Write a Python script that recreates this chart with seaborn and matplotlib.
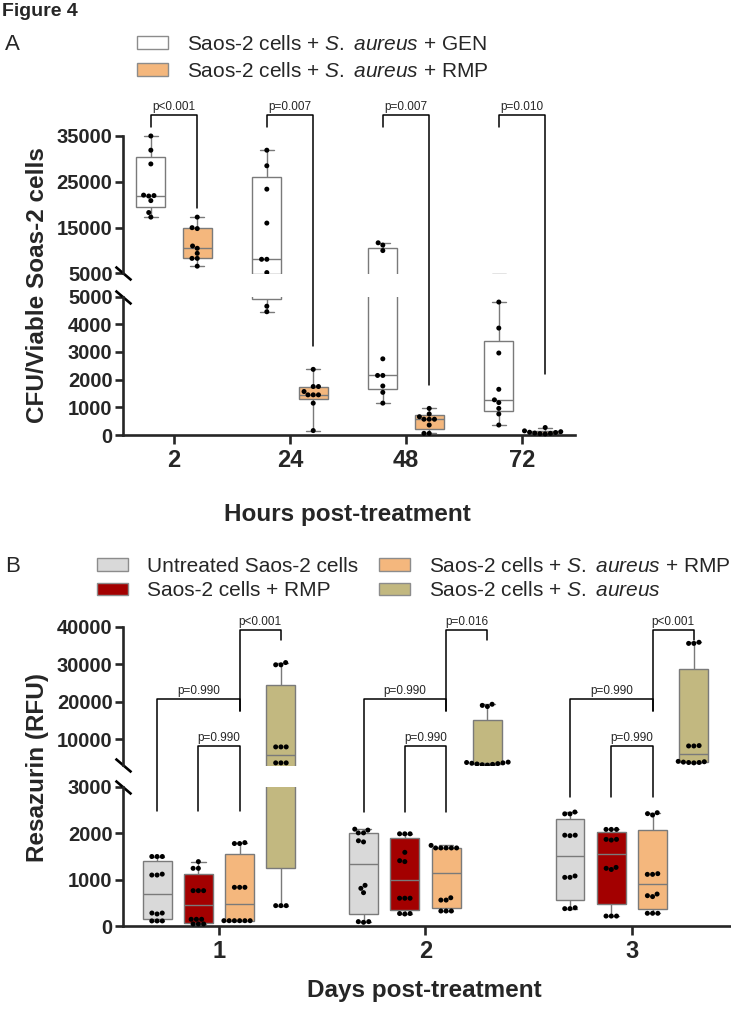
import warnings
warnings.filterwarnings("ignore")

import numpy as np
import pandas as pd
import matplotlib
matplotlib.use("Agg")
import matplotlib.pyplot as plt
import matplotlib.cbook as cbook
from matplotlib.lines import Line2D
from matplotlib.patches import Patch
import seaborn as sns

# ── Style ────────────────────────────────────────────────────
sns.set_style("ticks")
plt.rcParams.update({
    "font.family": ["Liberation Sans", "DejaVu Sans"],
    "mathtext.fontset": "custom",
    "mathtext.rm": "Liberation Sans",
    "mathtext.it": "Liberation Sans:italic",
    "axes.linewidth": 1.9,
    "figure.facecolor": "white",
})
EDGE = "#7a7a7a"
WHITE, ORANGE = "#ffffff", "#f4b77d"
GREY, RED, OLIVE = "#d9d9d9", "#a30000", "#c2b880"
YTICK_FS, XTICK_FS, LABEL_FS = 14.5, 17, 17.5

# GraphPad draws quartiles with the (n+1)p rule, not numpy's default
_mpl_stats = cbook.boxplot_stats
def graphpad_stats(X, *args, **kwargs):
    stats = _mpl_stats(X, *args, **kwargs)
    for s, x in zip(stats, X):
        s["q1"], s["med"], s["q3"] = np.percentile(np.asarray(x, float), [25, 50, 75], method="weibull")
    return stats
cbook.boxplot_stats = graphpad_stats

# ── Data: panel A, CFU per viable Saos-2 cell ───────────────
HOURS = ["2", "24", "48", "72"]
A_GROUPS = ["GEN", "RMP"]
gen_2h  = [35000, 31900, 28900, 22100, 21900, 22000, 20900, 18300, 17300]
gen_24h = [31900, 28500, 23400, 16000, 8100, 8100, 5200, 4650, 4450]
gen_48h = [11700, 11200, 10000, 2750, 2150, 2150, 1770, 1540, 1150]
gen_72h = [4800, 3860, 2960, 1650, 1270, 1170, 960, 760, 360]
rmp_2h  = [17300, 14800, 15000, 11000, 10500, 9400, 8300, 8300, 6600]
rmp_24h = [2370, 1750, 1750, 1570, 1450, 1450, 1450, 1150, 160]
rmp_48h = [960, 760, 660, 570, 570, 570, 360, 60, 60]
rmp_72h = [270, 150, 120, 100, 90, 70, 60, 50, 40]
A_PVALS = ["p<0.001", "p=0.007", "p=0.007", "p=0.010"]
A_BRACKET_TOP = 39600
A_LEFT_LEG = 37000
A_RIGHT_LEG = [19200, 3200, 1800, 2200]

# ── Data: panel B, resazurin (RFU) ──────────────────────────
DAYS = ["1", "2", "3"]
B_GROUPS = ["Untreated", "RMP", "SA+RMP", "SA"]
untreated_d1 = [1500, 1500, 1500, 1120, 1100, 1100, 280, 280, 260, 110, 110, 110]
untreated_d2 = [2090, 2070, 2010, 2010, 1840, 1815, 878, 813, 720, 95, 95, 80]
untreated_d3 = [2460, 2420, 2420, 1960, 1950, 1960, 1080, 1050, 1050, 395, 375, 375]
rmp_d1 = [1390, 1245, 1245, 763, 763, 763, 145, 145, 145, 45, 45, 45]
rmp_d2 = [1990, 1990, 1990, 1590, 1410, 1390, 600, 600, 600, 270, 260, 270]
rmp_d3 = [2085, 2085, 2085, 1870, 1855, 1870, 1265, 1245, 1220, 215, 215, 215]
sa_rmp_d1 = [1800, 1780, 1780, 835, 835, 835, 115, 115, 115, 115, 115, 115]
sa_rmp_d2 = [1740, 1685, 1685, 1685, 1685, 1685, 610, 560, 560, 324, 324, 324]
sa_rmp_d3 = [2445, 2425, 2395, 1130, 1115, 1115, 690, 655, 635, 275, 275, 275]
sa_d1 = [30400, 29800, 29800, 7950, 7950, 7950, 3700, 3700, 3700, 440, 440, 440]
sa_d2 = [19300, 19000, 18700, 3900, 3800, 3700, 3600, 3500, 3400, 3300, 3200, 3100]
sa_d3 = [35800, 35500, 35500, 8300, 8200, 8200, 4100, 3900, 3800, 3700, 3800, 4000]
B_PVALS_TOP = ["p<0.001", "p=0.016", "p<0.001"]
B_PVALS_MID = ["p=0.990", "p=0.990", "p=0.990"]
B_PVALS_LOW = ["p=0.990", "p=0.990", "p=0.990"]
B_TOP, B_TOP_RIGHT = 39200, 36500
B_MID, B_MID_RIGHT = 20600, 17600
B_LOW = 8200
B_LEG = [2480, 2450, 2790]


def long_frame(groups, times, table):
    rows = []
    for g, series in zip(groups, table):
        for t, vals in zip(times, series):
            rows += [(t, g, v) for v in vals]
    return pd.DataFrame(rows, columns=["time", "group", "value"])


df_a = long_frame(A_GROUPS, HOURS, [[gen_2h, gen_24h, gen_48h, gen_72h],
                                    [rmp_2h, rmp_24h, rmp_48h, rmp_72h]])
df_b = long_frame(B_GROUPS, DAYS, [[untreated_d1, untreated_d2, untreated_d3],
                                   [rmp_d1, rmp_d2, rmp_d3],
                                   [sa_rmp_d1, sa_rmp_d2, sa_rmp_d3],
                                   [sa_d1, sa_d2, sa_d3]])

W, H = 731, 1009
fig = plt.figure(figsize=(W / 100, H / 100), dpi=100)


def px_rect(x0, x1, y_top, y_bot):
    return [x0 / W, 1 - y_bot / H, (x1 - x0) / W, (y_bot - y_top) / H]


def hue_x(i, j, n):
    return i + (j - (n - 1) / 2) * 0.8 / n


def broken_panel(df, order, hue_order, palette, rects, lims, brk, ticks, xlim, gap):
    axes = []
    parts = [df[df["value"] >= brk], df[df["value"] <= brk]]
    for rect, lim, yt, part in zip(rects, lims, ticks, parts):
        ax = fig.add_axes(rect)
        sns.boxplot(data=df, x="time", y="value", hue="group", order=order,
                    hue_order=hue_order, palette=palette, saturation=1, width=0.8,
                    gap=gap, whis=(0, 100), linecolor=EDGE, linewidth=1,
                    fliersize=0, legend=False, ax=ax)
        # only the points that belong to this segment of the broken axis
        sns.swarmplot(data=part, x="time", y="value", hue="group", order=order,
                      hue_order=hue_order, palette={g: "black" for g in hue_order},
                      dodge=True, size=3.6, legend=False, ax=ax)
        ax.set_xlim(*xlim)
        ax.set_ylim(*lim)
        ax.set_xlabel("")
        ax.set_ylabel("")
        ax.set_yticks(yt, labels=[str(t) for t in yt], fontweight="bold", fontsize=YTICK_FS)
        ax.spines["left"].set_bounds(max(lim[0], 0), yt[-1])
        ax.tick_params(axis="y", length=6, width=1.9, pad=1.5)
        sns.despine(ax=ax)
        axes.append(ax)
    up, lo = axes
    up.spines["bottom"].set_visible(False)
    up.tick_params(axis="x", bottom=False, labelbottom=False)
    lo.spines["bottom"].set_position(("data", 0))
    lo.set_xticks(range(len(order)), labels=order, fontweight="bold", fontsize=XTICK_FS)
    lo.tick_params(axis="x", length=6.5, width=1.9, pad=3.5)
    kw = dict(marker=[(-1, 0.85), (1, -0.85)], markersize=11.5, mew=1.9, color="black",
              linestyle="none", clip_on=False)
    up.plot([0], [brk], transform=up.get_yaxis_transform(), **kw)
    lo.plot([0], [brk], transform=lo.get_yaxis_transform(), **kw)
    return up, lo


def fig_xy(up, lo, brk, x, v):
    ax = up if v >= brk else lo
    return fig.transFigure.inverted().transform(ax.transData.transform((x, v)))


def bracket(up, lo, brk, x0, x1, top, leg0, leg1, label):
    pts = [fig_xy(up, lo, brk, x, v) for x, v in [(x0, leg0), (x0, top), (x1, top), (x1, leg1)]]
    xs, ys = zip(*pts)
    fig.add_artist(Line2D(xs, ys, transform=fig.transFigure, color="black", lw=1.1))
    fig.text((xs[1] + xs[2]) / 2, ys[1] + 2 / H, label, ha="center", va="bottom", fontsize=8.5)


# ── Panel A ──────────────────────────────────────────────────
a_up, a_lo = broken_panel(
    df_a, HOURS, A_GROUPS, [WHITE, ORANGE],
    rects=[px_rect(123, 575, 131.4, 273.5), px_rect(123, 575, 296.5, 437.5)],
    lims=[(5000, 36000), (-90, 5000)], brk=5000,
    ticks=[[5000, 15000, 25000, 35000], [0, 1000, 2000, 3000, 4000, 5000]],
    xlim=(-0.44, 3.457), gap=0.375)
a_up.spines["left"].set_bounds(5000, 35000)
for i, p in enumerate(A_PVALS):
    bracket(a_up, a_lo, 5000, hue_x(i, 0, 2), hue_x(i, 1, 2),
            A_BRACKET_TOP, A_LEFT_LEG, A_RIGHT_LEG[i], p)

# ── Panel B ──────────────────────────────────────────────────
b_up, b_lo = broken_panel(
    df_b, DAYS, B_GROUPS, [GREY, RED, ORANGE, OLIVE],
    rects=[px_rect(123, 730, 626.5, 765.5), px_rect(123, 730, 787, 928.8)],
    lims=[(3000, 40000), (-60, 3000)], brk=3000,
    ticks=[[10000, 20000, 30000, 40000], [0, 1000, 2000, 3000]],
    xlim=(-0.465, 2.475), gap=0.3)
for i in range(len(DAYS)):
    bracket(b_up, b_lo, 3000, hue_x(i, 2, 4), hue_x(i, 3, 4),
            B_TOP, B_MID_RIGHT, B_TOP_RIGHT, B_PVALS_TOP[i])
    bracket(b_up, b_lo, 3000, hue_x(i, 0, 4), hue_x(i, 2, 4),
            B_MID, B_LEG[i], B_MID_RIGHT, B_PVALS_MID[i])
    bracket(b_up, b_lo, 3000, hue_x(i, 1, 4), hue_x(i, 2, 4),
            B_LOW, B_LEG[i], B_LEG[i], B_PVALS_LOW[i])

# ── Labels and legends ───────────────────────────────────────
fig.text(2 / W, 1 - 12 / H, "Figure 4", fontsize=14, fontweight="bold", va="center")
fig.text(5 / W, 1 - 45 / H, "A", fontsize=16, va="center")
fig.text(5 / W, 1 - 567 / H, "B", fontsize=16, va="center")
fig.text(38 / W, 1 - 285 / H, "CFU/Viable Soas-2 cells", rotation=90, ha="center",
         va="center", fontsize=LABEL_FS, fontweight="bold")
fig.text(38 / W, 1 - 768 / H, "Resazurin (RFU)", rotation=90, ha="center",
         va="center", fontsize=LABEL_FS, fontweight="bold")
fig.text(347 / W, 1 - 514 / H, "Hours post-treatment", ha="center", va="center",
         fontsize=LABEL_FS, fontweight="bold")
fig.text(424 / W, 1 - 990 / H, "Days post-treatment", ha="center", va="center",
         fontsize=LABEL_FS, fontweight="bold")

SA = r"$\mathit{S.\ aureus}$"


def add_legend(colors, labels, x_px, y_px, spacing, ncol=1):
    handles = [Patch(facecolor=c, edgecolor="#8c8c8c", linewidth=1) for c in colors]
    fig.legend(handles, labels, loc="upper left", bbox_to_anchor=(x_px / W, 1 - y_px / H),
               ncol=ncol, frameon=False, fontsize=15, handlelength=1.5, handleheight=0.55,
               handletextpad=0.9, labelspacing=spacing, columnspacing=1.0,
               borderpad=0, borderaxespad=0)


add_legend([WHITE, ORANGE],
           [f"Saos-2 cells + {SA} + GEN", f"Saos-2 cells + {SA} + RMP"], 137, 35, 0.39)
add_legend([GREY, RED, ORANGE, OLIVE],
           ["Untreated Saos-2 cells", "Saos-2 cells + RMP",
            f"Saos-2 cells + {SA} + RMP", f"Saos-2 cells + {SA}"], 97, 557, 0.25, ncol=2)

fig.savefig("out.png", dpi=100)
